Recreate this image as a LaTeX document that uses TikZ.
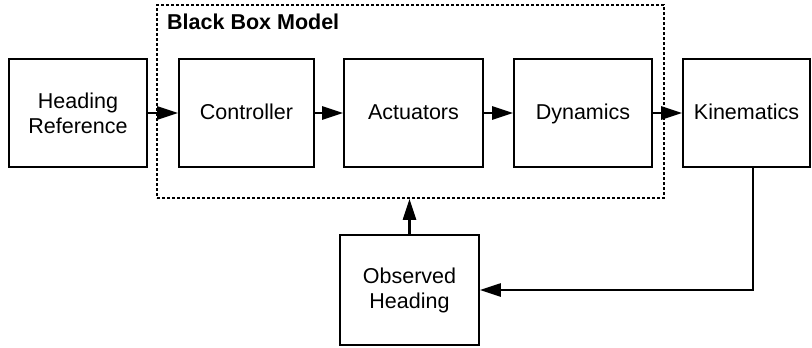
\documentclass[tikz,border=0pt]{standalone}
\usepackage{fontspec}
\setmainfont{Liberation Sans}
\usetikzlibrary{arrows.meta}
\begin{document}
\begin{tikzpicture}[x=1pt,y=-1pt,
  blk/.style={draw,line width=1.6pt,minimum width=138pt,minimum height=108pt,inner sep=0pt,align=center,font=\fontsize{21.5}{25}\selectfont},
  one/.style={text height=17pt,text depth=4pt},
  conn/.style={line width=2.4pt,-{Triangle[length=21pt,width=13pt]}},
  bbox/.style={draw,line width=1.6pt,dash pattern=on 3pt off 2pt}]
\useasboundingbox (0,0) rectangle (812,348);
\node[blk] (ref) at (78,113) {Heading\\Reference};
\node[blk,one,minimum width=135pt] (ctrl) at (246.5,113) {Controller};
\node[blk,one,minimum width=139pt] (act) at (413.5,113) {Actuators};
\node[blk,one] (dyn) at (583,113) {Dynamics};
\node[blk,one,minimum width=127pt] (kin) at (746.5,113) {Kinematics};
\node[blk,minimum width=139pt,minimum height=110pt] (obs) at (409.5,290) {Observed\\Heading};
\node[bbox,minimum width=507pt,minimum height=193pt,inner sep=0pt] (bb) at (410.5,101.5) {};
\node[anchor=west,font=\bfseries\fontsize{21.5}{25}\selectfont,inner sep=0pt] (bbl) at (167,22) {Black Box Model};
\draw[conn] (ref) -- (ctrl);
\draw[conn] (ctrl) -- (act);
\draw[conn] (act) -- (dyn);
\draw[conn] (dyn) -- (kin);
\draw[conn] (obs) -- (bb.south -| obs);
\coordinate (c1) at (753,290);
\draw[conn] (kin.south -| c1) -- (c1) -- (obs.east);
\end{tikzpicture}
\end{document}
